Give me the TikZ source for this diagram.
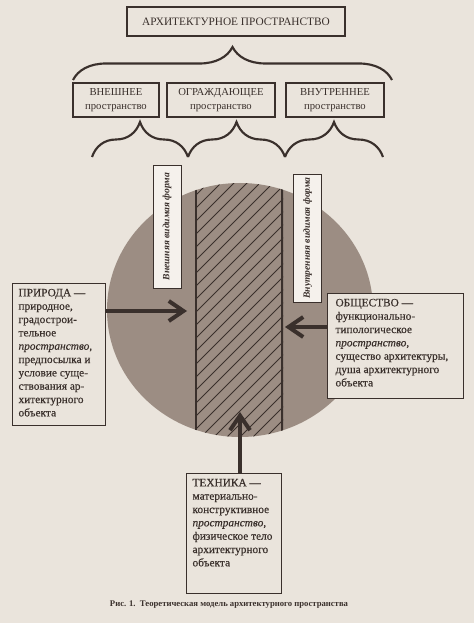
\documentclass[tikz,border=0pt]{standalone}
\usepackage{fontspec}
\setmainfont{Liberation Serif}
\usetikzlibrary{arrows.meta,decorations.pathreplacing}
\definecolor{paper}{RGB}{234,228,220}
\definecolor{disc}{RGB}{156,141,131}
\definecolor{ink}{RGB}{58,48,44}
\definecolor{card}{RGB}{245,241,236}
\newcommand{\notebox}[3]{\parbox[t][#2][t]{#1}{\raggedright #3}}

\begin{document}
\begin{tikzpicture}[x=0.75pt,y=0.75pt,yscale=-1,xscale=1,
  frame/.style={draw=ink, line width=0.8pt, fill=paper, text=ink, inner sep=0pt},
  level/.style={frame, minimum height=25.5pt, align=center, font=\fontsize{8}{10.5}\selectfont},
  formlabel/.style={draw=ink, line width=0.6pt, fill=card, text=ink, rotate=90, minimum height=21pt, inner sep=0pt, font=\fontsize{7.2}{9}\selectfont\bfseries\itshape},
  note/.style={frame, anchor=north west, inner ysep=4pt, font=\fontsize{8.5}{10}\selectfont\addfontfeature{FakeBold=0.4}},
  wall/.style={draw=ink, line width=3pt},
  push/.style={draw=ink, line width=3pt, -{Straight Barb[length=11pt,width=15pt]}},
  curly/.style={draw=ink, line width=1.6pt, decorate, decoration={brace, amplitude=#1}}
]
\fill[paper] (0,0) rectangle (474,623);
\useasboundingbox (0,0) rectangle (474,623);

% Text Node
\node[frame, minimum width=163.5pt, minimum height=21.75pt, font=\fontsize{8.5}{10}\selectfont] (space) at (236,21.5) {АРХИТЕКТУРНОЕ ПРОСТРАНСТВО};
%Shape: Brace
\draw[curly=24.75pt] (73,80) -- (392,80);

% Text Node
\node[level, minimum width=64.5pt] (outer) at (116,100) {ВНЕШНЕЕ\\пространство};
% Text Node
\node[level, minimum width=81pt] (fence) at (221,100) {ОГРАЖДАЮЩЕЕ\\пространство};
% Text Node
\node[level, minimum width=73.5pt] (inner) at (335,100) {ВНУТРЕННЕЕ\\пространство};

%Shape: Brace
\draw[curly=26.25pt] (92,157) -- (188,157);
\draw[curly=26.25pt] (188,157) -- (285,157);
\draw[curly=26.25pt] (285,157) -- (383,157);

%Shape: Ellipse
\fill[disc] (240,310) ellipse [x radius=133, y radius=127];
\begin{scope}
\clip (240,310) ellipse [x radius=133, y radius=127];
%Shape: Hatched wall
\clip (195,150) rectangle (283,450);
\foreach \x in {-72,-59,...,290} {
  \draw[ink, line width=0.6pt] (\x,450) -- ++(270,-270);
}
\draw[wall] (195,150) -- (195,450);
\draw[wall] (283,150) -- (283,450);
\end{scope}

% Text Node
\node[formlabel, minimum width=92.25pt] (outerForm) at (167,226.5) {Внешняя видимая форма};
% Text Node
\node[formlabel, minimum width=96pt] (innerForm) at (307.5,238) {Внутренняя видимая форма};

% Text Node
\node[note, inner xsep=4.5pt] (nature) at (12,283) {\notebox{60.75pt}{98.5pt}{ПРИРОДА —\\природное,\\градострои-\\тельное\\\textit{пространство},\\предпосылка и\\условие суще-\\ствования ар-\\хитектурного\\объекта}};
% Text Node
\node[note, inner xsep=6pt] (society) at (327,293) {\notebox{90pt}{70.75pt}{ОБЩЕСТВО —\\функционально-\\типологическое\\\textit{пространство},\\существо архитектуры,\\душа архитектурного\\объекта}};
% Text Node
\node[note, inner xsep=4.5pt] (tech) at (186,473) {\notebox{62.25pt}{82pt}{ТЕХНИКА —\\материально-\\конструктивное\\\textit{пространство},\\физическое тело\\архитектурного\\объекта}};

\coordinate (natureTip) at (187,311);
\coordinate (societyTip) at (285,327);
\coordinate (techTip) at (240,412);
%Straight Lines
\draw[push] (nature.east |- natureTip) -- (natureTip);
\draw[push] (society.west |- societyTip) -- (societyTip);
\draw[push] (techTip |- tech.north) -- (techTip);

% Text Node
\node[text=ink, font=\fontsize{6.5}{8}\selectfont\bfseries] (caption) at (229,605) {Рис. 1.~~Теоретическая модель архитектурного пространства};

\end{tikzpicture}
\end{document}
